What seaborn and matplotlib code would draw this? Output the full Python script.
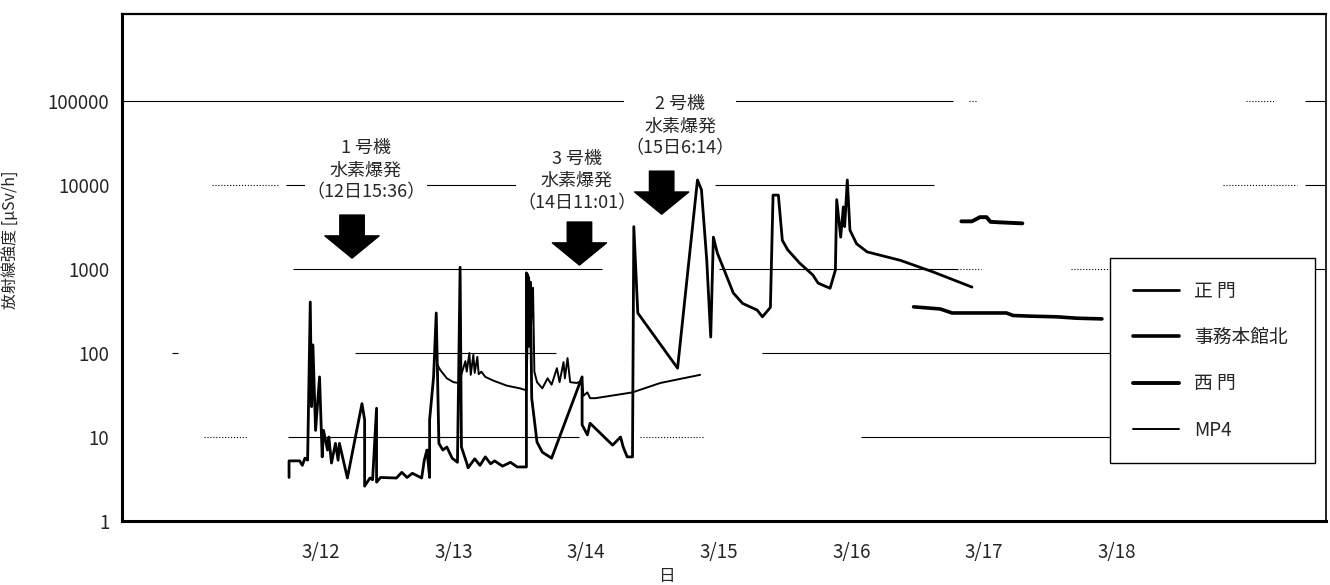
import matplotlib
matplotlib.use("Agg")
import matplotlib.pyplot as plt
import seaborn as sns

# day of March (decimal), value in uSv/h
main_gate_day = [12.26, 12.26, 12.34, 12.36, 12.38, 12.40, 12.42, 12.43, 12.44, 12.46,
                 12.49, 12.51, 12.52, 12.55, 12.56, 12.58, 12.61, 12.63, 12.64, 12.70,
                 12.81, 12.83, 12.83, 12.87, 12.89, 12.92, 12.92, 12.95, 13.07, 13.11,
                 13.15, 13.19, 13.26, 13.28, 13.30, 13.32, 13.32, 13.35, 13.37, 13.38,
                 13.39, 13.42, 13.45, 13.49, 13.53, 13.55, 13.56, 13.60, 13.61, 13.66,
                 13.70, 13.74, 13.78, 13.81, 13.87, 13.93, 13.98, 14.05, 14.05, 14.06,
                 14.07, 14.08, 14.09, 14.13, 14.17, 14.24, 14.47, 14.47, 14.51, 14.53,
                 14.70, 14.76, 14.78, 14.81, 14.85, 14.86, 14.89, 15.19, 15.34, 15.37,
                 15.41, 15.44, 15.46, 15.49, 15.55, 15.61, 15.68, 15.79, 15.83, 15.89,
                 15.91, 15.95, 15.98, 16.02, 16.11, 16.21, 16.25, 16.34, 16.38, 16.39,
                 16.42, 16.44, 16.45, 16.47, 16.49, 16.54, 16.62, 16.87, 17.12, 17.41]
main_gate_val = [3.3, 5.2, 5.2, 4.6, 5.6, 5.3, 405, 23, 125, 12,
                 52, 5.8, 12, 7, 10, 4.9, 8.4, 5.3, 8.4, 3.25,
                 25, 16, 2.6, 3.25, 3.1, 22, 2.9, 3.3, 3.25, 3.8,
                 3.3, 3.7, 3.25, 5.3, 7, 3.3, 16, 52, 300, 52,
                 8.4, 7, 7.6, 5.6, 5.0, 1050, 7.6, 4.9, 4.3, 5.5,
                 4.6, 5.8, 4.8, 5.2, 4.5, 5.0, 4.4, 4.4, 900, 850,
                 120, 700, 29, 8.7, 6.6, 5.6, 52, 14, 10.6, 14.6,
                 8.0, 10, 7.6, 5.8, 5.8, 3200, 300, 66, 11500, 8800,
                 1280, 155, 2400, 1550, 900, 520, 390, 325, 270, 350,
                 7600, 7600, 2200, 1700, 1180, 850, 680, 590, 970, 6700,
                 2400, 5500, 3200, 11500, 2900, 2000, 1600, 1270, 920, 610]

office_day = [16.97, 17.17, 17.26, 17.67, 17.72, 17.85, 18.05, 18.20, 18.39]
office_val = [355, 335, 300, 300, 280, 275, 270, 260, 255]

west_day = [17.33, 17.41, 17.47, 17.52, 17.55, 17.62, 17.79]
west_val = [3700, 3700, 4150, 4150, 3650, 3600, 3500]

mp4_day = [13.38, 13.40, 13.45, 13.50, 13.54, 13.59, 13.60, 13.62, 13.63, 13.65,
           13.66, 13.68, 13.69, 13.71, 13.74, 13.80, 13.90, 14.00, 14.05, 14.07,
           14.08, 14.10, 14.11, 14.13, 14.17, 14.21, 14.24, 14.28, 14.30, 14.33,
           14.34, 14.36, 14.38, 14.43, 14.47, 14.48, 14.51, 14.53, 14.57, 14.85,
           15.06, 15.36]
mp4_val = [72, 63, 50, 45, 44, 80, 60, 100, 55, 95,
           58, 90, 56, 60, 52, 47, 41, 38, 36, 800,
           150, 600, 60, 45, 38, 50, 42, 66, 45, 78,
           50, 87, 45, 44, 47, 31, 34, 29, 29, 34,
           44, 55]

series_names = ["正 門", "事務本館北", "西 門", "MP4"]

day_ticks = [12, 13, 14, 15, 16, 17, 18, 19]
day_label_pos = [12.5, 13.5, 14.5, 15.5, 16.5, 17.5, 18.5]
day_labels = ["3/12", "3/13", "3/14", "3/15", "3/16", "3/17", "3/18"]
y_ticks = [1, 10, 100, 1000, 10000, 100000]

# text, text centre (day, value), arrow tip (day, value)
events = [
    ("1 号機\n水素爆発\n（12日15:36）", 12.84, 15000, 12.735, 1350),
    ("3 号機\n水素爆発\n（14日11:01）", 14.43, 11200, 14.45, 1115),
    ("2 号機\n水素爆発\n（15日6:14）", 15.21, 50000, 15.07, 4500),
]

# broken horizontal rules of the original scan (value, from day, to day, style)
grid_segments = [
    (1e5, 11.0, 14.83, "-"), (1e5, 15.56, 17.27, "-"), (1e5, 17.39, 17.45, ":"),
    (1e5, 19.48, 19.69, ":"), (1e5, 19.92, 20.08, "-"),
    (1e4, 11.68, 12.18, ":"), (1e4, 12.24, 12.38, "-"), (1e4, 13.12, 14.00, "-"),
    (1e4, 15.47, 17.12, "-"), (1e4, 19.30, 19.86, ":"), (1e4, 19.92, 20.08, "-"),
    (1e3, 12.29, 14.62, "-"), (1e3, 15.50, 17.30, "-"), (1e3, 17.30, 17.48, ":"),
    (1e3, 18.16, 18.45, ":"), (1e3, 19.27, 20.08, "-"),
    (1e2, 11.38, 11.42, "-"), (1e2, 12.76, 14.27, "-"), (1e2, 15.83, 18.48, "-"),
    (10, 11.62, 11.94, ":"), (10, 12.25, 14.45, "-"), (10, 14.91, 15.39, ":"),
    (10, 16.57, 18.48, "-"),
]

sns.set_style("white")
plt.rcParams["font.family"] = ["Noto Sans CJK JP", "DejaVu Sans"]

fig = plt.figure(figsize=(13.3, 5.85), dpi=100)
ax = fig.add_axes([0.0917, 0.1094, 0.9053, 0.8667])
ax.set_yscale("log")

for y, x0, x1, ls in grid_segments:
    ax.hlines(y, x0, x1, colors="black", lw=0.8, linestyles=ls, zorder=1)

series = [
    (main_gate_day, main_gate_val, 2.0),
    (office_day, office_val, 2.6),
    (west_day, west_val, 2.8),
    (mp4_day, mp4_val, 1.4),
]
for name, (d, v, lw) in zip(series_names, series):
    sns.lineplot(x=d, y=v, ax=ax, color="black", lw=lw, sort=False,
                 estimator=None, label=name, zorder=2)

for txt, tx, ty, ax_x, ax_y in events:
    ax.text(tx, ty, txt, ha="center", va="center", fontsize=13,
            linespacing=1.3, zorder=3,
            bbox=dict(facecolor="white", edgecolor="none", pad=1))
    ax.annotate("", xy=(ax_x, ax_y), xytext=(0, 31), textcoords="offset points",
                arrowprops=dict(arrowstyle="simple,head_length=0.8,head_width=1.95,tail_width=0.88",
                                mutation_scale=20, fc="black", ec="black",
                                shrinkA=0, shrinkB=0), zorder=4)

ax.set_xlim(11, 20.08)
ax.set_ylim(1, 1.09e6)
ax.set_yticks(y_ticks)
ax.set_yticklabels([str(t) for t in y_ticks], fontsize=13.5)
ax.minorticks_off()
ax.tick_params(axis="y", length=0, pad=9)
ax.set_xticks(day_ticks)
ax.set_xticklabels([""] * len(day_ticks))
ax.set_xticks(day_label_pos, minor=True)
ax.set_xticklabels(day_labels, minor=True, fontsize=13.5)
ax.tick_params(axis="x", which="major", direction="in", length=8, width=1)
ax.tick_params(axis="x", which="minor", length=0, pad=15)

ax.set_ylabel("放射線強度 [μSv/h]", fontsize=11.5)
ax.yaxis.set_label_coords(-0.085, 0.554)
ax.set_xlabel("日", fontsize=12)
ax.xaxis.set_label_coords(0.452, -0.092)

for side, w in [("left", 2.2), ("bottom", 2.2), ("top", 1.6), ("right", 1.2)]:
    ax.spines[side].set_visible(True)
    ax.spines[side].set_color("black")
    ax.spines[side].set_linewidth(w)

leg = ax.legend(loc="upper left", bbox_to_anchor=(0.8206, 0.1085, 0.170, 0.41),
                mode="expand", fontsize=13.5, frameon=True, fancybox=False,
                framealpha=1, edgecolor="black", handlelength=2.5,
                handletextpad=0.8, labelspacing=1.35, borderpad=1.2,
                borderaxespad=0)
leg.get_frame().set_linewidth(1.0)
leg.set_zorder(5)

fig.savefig("out.png", dpi=100)
